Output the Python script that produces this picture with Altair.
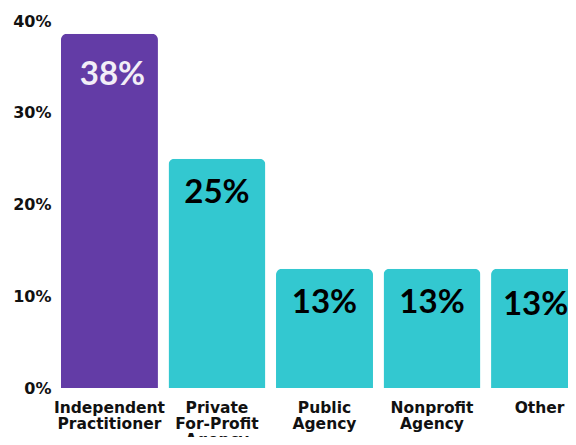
import altair as alt
import pandas as pd

categories = ["Independent Practitioner", "Private For-Profit Agency", "Public Agency", "Nonprofit Agency", "Other"]
shares = [38.6, 25, 13, 13, 13]
labels = ["38%", "25%", "13%", "13%", "13%"]
y_ticks = [0, 10, 20, 30, 40]

df = pd.DataFrame({"category": categories, "share": shares, "label": labels})

PURPLE = "#633CA6"
TEAL = "#33C8D0"
FONT = "Lato"
AXFONT = "DejaVu Sans"

x = alt.X("category:N", sort=categories, title=None,
          scale=alt.Scale(paddingInner=0.098, paddingOuter=0.037),
          axis=alt.Axis(labelAngle=0, labelExpr="split(datum.label, ' ')",
                        labelFont=AXFONT, labelFontWeight="bold", labelFontSize=15.5,
                        labelColor="#111111", labelBaseline="top", labelLineHeight=16,
                        labelPadding=12, ticks=False, domain=False, labelLimit=200))
y = alt.Y("share:Q", title=None,
          scale=alt.Scale(domain=[0, 40]),
          axis=alt.Axis(values=y_ticks, labelExpr="datum.value + '%'",
                        labelFont=AXFONT, labelFontWeight="bold", labelFontSize=16,
                        labelColor="#111111", labelPadding=6, ticks=False,
                        domain=False, grid=False))

is_first = alt.datum.category == categories[0]
is_last = alt.datum.category == categories[-1]

bars = alt.Chart(df).mark_bar(cornerRadiusTopLeft=6, cornerRadiusTopRight=6).encode(
    x=x, y=y,
    color=alt.condition(is_first, alt.value(PURPLE), alt.value(TEAL)),
)

base_text = alt.Chart(df)

text_first = base_text.mark_text(font=FONT, fontWeight="bold", fontSize=33,
                                 baseline="middle", dy=41, dx=3, color="#F2EEF7").encode(
    x=x, y=y, text="label:N").transform_filter(is_first)

text_mid = base_text.mark_text(font=FONT, fontWeight="bold", fontSize=33,
                               baseline="middle", dy=34, color="#000000").encode(
    x=x, y=y, text="label:N").transform_filter(~is_first & ~is_last)

text_last = base_text.mark_text(font=FONT, fontWeight="bold", fontSize=33,
                                baseline="middle", dy=36, dx=-4, color="#000000").encode(
    x=x, y=y, text="label:N").transform_filter(is_last)

chart = (bars + text_first + text_mid + text_last).properties(
    width=535, height=367,
    autosize=alt.AutoSizeParams(type="none"),
    padding={"left": 49, "top": 13, "right": -24, "bottom": 49},
).configure_view(stroke=None)

chart.save("out.html", embed_options={"renderer": "svg", "actions": False})
